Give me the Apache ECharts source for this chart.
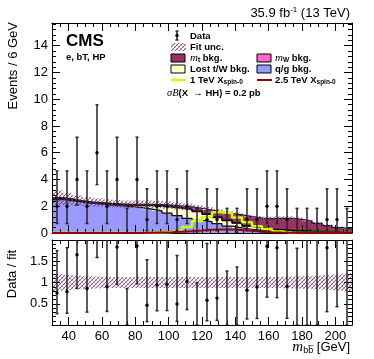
<!DOCTYPE html>
<html>
<head>
<meta charset="utf-8">
<script src="https://cdn.jsdelivr.net/npm/echarts@6/dist/echarts.min.js"></script>
<style>
html, body { margin: 0; padding: 0; background: #fff; }
#chart { width: 374px; height: 359px; }
</style>
</head>
<body>
<div id="chart"></div>
<script>
// bin edges, 6 GeV bins from 30 to 210
const binEdges = [30,36,42,48,54,60,66,72,78,84,90,96,102,108,114,120,126,132,138,144,150,156,162,168,174,180,186,192,198,204,210];
// observed events per bin
const dataCounts = [2,2,4,2,6,2,4,0,4,1,2,2,1,2,0,1,1,0,0,1,1,2,2,1,0,0,0,1,1,0];
// stacked backgrounds (bottom to top)
const qgBkg   = [2.50,2.42,2.30,2.22,2.15,2.08,2.02,1.97,1.90,1.78,1.65,1.48,1.30,1.10,0.95,0.85,0.70,0.52,0.38,0.28,0.20,0.15,0.12,0.10,0.08,0.06,0.05,0.04,0.03,0.02];
const lostBkg = [0.07,0.05,0.05,0.04,0.06,0.06,0.08,0.09,0.15,0.26,0.35,0.46,0.56,0.65,0.65,0.54,0.45,0.41,0.35,0.23,0.17,0.13,0.11,0.08,0.08,0.06,0.06,0.06,0.04,0.03];
const mwBkg   = [0,0,0,0,0,0.01,0.01,0.02,0.02,0.03,0.03,0.04,0.04,0.05,0.05,0.05,0.05,0.04,0.04,0.03,0.03,0.02,0.02,0.02,0.01,0.01,0.01,0,0,0];
const mtBkg   = [0.08,0.08,0.07,0.07,0.07,0.07,0.07,0.07,0.08,0.08,0.09,0.10,0.12,0.15,0.20,0.28,0.38,0.48,0.58,0.68,0.72,0.78,0.85,0.90,0.85,0.75,0.60,0.45,0.33,0.25];
// relative fit uncertainty
const fitUncRel = [0.20,0.18,0.16,0.15,0.14,0.13,0.13,0.13,0.13,0.13,0.13,0.13,0.13,0.13,0.13,0.13,0.13,0.13,0.13,0.13,0.13,0.13,0.13,0.14,0.14,0.15,0.16,0.17,0.19,0.21];
// signals (not stacked)
const sig1TeV   = [0,0,0,0,0,0,0,0,0,0.01,0.03,0.08,0.20,0.45,0.90,1.20,1.55,1.50,1.15,0.80,0.50,0.30,0.12,0.04,0,0,0,0,0,0];
const sig2p5TeV = [0,0,0,0,0,0,0,0,0,0.02,0.04,0.06,0.10,0.14,0.18,0.24,0.27,0.27,0.22,0.16,0.10,0.06,0.03,0.02,0,0,0,0,0,0];
// Garwood 68% intervals for the observed counts
const poissonInterval = {0: [0, 1.841], 1: [0.173, 3.300], 2: [0.708, 4.638], 4: [2.086, 7.163], 6: [3.620, 9.584]};

// cumulative stack levels
const stackLayers = [qgBkg, lostBkg, mwBkg, mtBkg];
const stackColors = ['#9999ff', '#ffffcc', '#ff66cc', '#993366'];
const cumul = [];
let running = qgBkg.map(() => 0);
stackLayers.forEach(layer => {
  const base = running;
  running = running.map((v, i) => v + layer[i]);
  cumul.push({ base: base, top: running });
});
const fitTotal = running;

// histogram points for step lines: one point per left edge, plus the last right edge
function histPoints(vals) {
  return binEdges.map((e, i) => [e, vals[Math.min(i, vals.length - 1)]]);
}
// [lo, hi, base, top] per bin
function binRects(base, top) {
  return top.map((t, i) => [binEdges[i], binEdges[i + 1], base[i], t]);
}

function hatchCanvas() {
  const c = document.createElement('canvas');
  c.width = 4; c.height = 4;
  const g = c.getContext('2d');
  g.strokeStyle = 'rgba(110,40,110,0.85)';
  g.lineWidth = 0.9;
  g.beginPath();
  g.moveTo(-1, 1); g.lineTo(1, -1);
  g.moveTo(0, 4); g.lineTo(4, 0);
  g.moveTo(3, 5); g.lineTo(5, 3);
  g.stroke();
  g.strokeStyle = 'rgba(170,90,160,0.5)';
  g.beginPath();
  g.moveTo(0, 0); g.lineTo(4, 4);
  g.stroke();
  return c;
}
const hatch = { image: hatchCanvas(), repeat: 'repeat' };

const FONT = 'Liberation Sans, Arial, sans-serif';

function rectSeries(name, rects, fill, xi, yi, z) {
  return {
    name: name, type: 'custom', xAxisIndex: xi, yAxisIndex: yi, z: z, clip: true, animation: false,
    encode: { x: [0, 1], y: [2, 3] },
    data: rects,
    renderItem: function (params, api) {
      const p1 = api.coord([api.value(0), api.value(3)]);
      const p2 = api.coord([api.value(1), api.value(2)]);
      return { type: 'rect', shape: { x: p1[0], y: p1[1], width: p2[0] - p1[0] + 0.5, height: p2[1] - p1[1] },
        style: { fill: fill, stroke: null } };
    }
  };
}

function stepLine(name, vals, color, width, z, xi, yi) {
  return {
    name: name, type: 'line', step: 'end', symbol: 'none', animation: false,
    xAxisIndex: xi || 0, yAxisIndex: yi || 0, z: z,
    lineStyle: { color: color, width: width },
    data: histPoints(vals)
  };
}

function errRenderItem(params, api) {
  const x = api.value(0), y = api.value(1), lo = api.value(2), hi = api.value(3), n = api.value(4);
  const pTop = api.coord([x, hi]);
  const pBot = api.coord([x, lo]);
  const p = api.coord([x, y]);
  const st = { stroke: '#262626', lineWidth: 1.5 };
  const children = [
    { type: 'line', shape: { x1: pTop[0], y1: pTop[1], x2: pBot[0], y2: pBot[1] }, style: st },
    { type: 'line', shape: { x1: pTop[0] - 1.5, y1: pTop[1], x2: pTop[0] + 1.5, y2: pTop[1] }, style: st },
    { type: 'line', shape: { x1: pBot[0] - 1.5, y1: pBot[1], x2: pBot[0] + 1.5, y2: pBot[1] }, style: st }
  ];
  if (n > 0) children.push({ type: 'circle', shape: { cx: p[0], cy: p[1], r: 1.7 }, style: { fill: '#000' } });
  return { type: 'group', children: children };
}

const centers = dataCounts.map((n, i) => (binEdges[i] + binEdges[i + 1]) / 2);
const mainPoints = dataCounts.map((n, i) => [centers[i], n, poissonInterval[n][0], poissonInterval[n][1], n]);
const ratioPoints = dataCounts.map((n, i) => [centers[i], n / fitTotal[i], poissonInterval[n][0] / fitTotal[i], poissonInterval[n][1] / fitTotal[i], n]);

function xAxisDef(gridIndex, position, labels) {
  return {
    type: 'value', gridIndex: gridIndex, position: position, min: 30, max: 210, splitNumber: 9, z: 5,
    axisLine: { show: true, onZero: false, lineStyle: { color: '#000', width: 1 } },
    axisTick: { show: true, inside: true, length: 8, lineStyle: { color: '#000' } },
    minorTick: { show: true, splitNumber: 4, length: 4, lineStyle: { color: '#000' } },
    splitLine: { show: false },
    axisLabel: { show: labels, showMinLabel: false, showMaxLabel: false, color: '#000', fontFamily: FONT, fontSize: 13, margin: 5 }
  };
}
function yAxisDef(gridIndex, position, min, max, interval, minorSplit, labels) {
  return {
    type: 'value', gridIndex: gridIndex, position: position, min: min, max: max, interval: interval, z: 5,
    axisLine: { show: true, onZero: false, lineStyle: { color: '#000', width: 1 } },
    axisTick: { show: true, inside: true, length: 8, lineStyle: { color: '#000' } },
    minorTick: { show: true, splitNumber: minorSplit, length: 4, lineStyle: { color: '#000' } },
    splitLine: { show: false },
    axisLabel: { show: labels, showMinLabel: gridIndex === 0, showMaxLabel: false, color: '#000', fontFamily: FONT, fontSize: 13, margin: 4 }
  };
}

const series = [];
cumul.forEach((c, k) => {
  series.push(rectSeries('bkg' + k, binRects(c.base, c.top), stackColors[k], 0, 0, 2));
});
cumul.forEach((c, k) => {
  series.push(stepLine('edge' + k, c.top, '#000', 1.2, 3));
});
series.push(rectSeries('Fit unc.', binRects(fitTotal.map((t, i) => t * (1 - fitUncRel[i])), fitTotal.map((t, i) => t * (1 + fitUncRel[i]))), hatch, 0, 0, 4));
series.push(stepLine('1 TeV', sig1TeV, '#ccff00', 2.5, 5));
series.push(stepLine('2.5 TeV', sig2p5TeV, '#990000', 2, 5));
series.push({ name: 'Data', type: 'custom', xAxisIndex: 0, yAxisIndex: 0, z: 6, clip: true, animation: false,
  renderItem: errRenderItem, encode: { x: 0, y: [1, 2, 3] }, data: mainPoints });
// ratio panel
series.push(rectSeries('ratio unc', binRects(fitUncRel.map(u => 1 - u), fitUncRel.map(u => 1 + u)), hatch, 2, 2, 4));
series.push({ name: 'Data / fit', type: 'custom', xAxisIndex: 2, yAxisIndex: 2, z: 6, clip: true, animation: false,
  renderItem: errRenderItem, encode: { x: 0, y: [1, 2, 3] }, data: ratioPoints });

const LX1 = 171, LX2 = 257, TX1 = 190, TX2 = 275;
const legFont = 'bold 9.5px ' + FONT;
const rich = {
  b: { fontFamily: FONT, fontWeight: 'bold', fontSize: 9.5, lineHeight: 12, verticalAlign: 'middle' },
  i: { fontFamily: 'Liberation Serif, serif', fontStyle: 'italic', fontSize: 11, lineHeight: 12, verticalAlign: 'middle' },
  s: { fontFamily: FONT, fontWeight: 'bold', fontSize: 6.5, lineHeight: 7, verticalAlign: 'bottom', padding: [6, 0, 0, 0] },
  sup: { fontFamily: FONT, fontSize: 8, lineHeight: 8, verticalAlign: 'top', padding: [0, 0, 6, 0] },
  n: { fontFamily: FONT, fontSize: 13, lineHeight: 14, verticalAlign: 'middle' },
  si: { fontFamily: 'Liberation Serif, serif', fontStyle: 'italic', fontSize: 10.5, lineHeight: 12, verticalAlign: 'middle' },
  mi: { fontFamily: 'Liberation Serif, serif', fontStyle: 'italic', fontSize: 15, lineHeight: 16, verticalAlign: 'middle' },
  ms: { fontFamily: FONT, fontSize: 9, lineHeight: 8, verticalAlign: 'bottom', padding: [8, 0, 0, 0] }
};
function txt(x, y, text) {
  return { type: 'text', x: x, y: y, z: 20,
    style: { text: text, rich: rich, fill: '#000', font: legFont, verticalAlign: 'middle' } };
}
function box(x, y, color) {
  return { type: 'rect', x: x, y: y, z: 20, shape: { width: 14, height: 8 }, style: { fill: color, stroke: '#000', lineWidth: 1 } };
}

const graphic = [
  // CMS label
  { type: 'text', x: 66, y: 41, z: 20, style: { text: 'CMS', font: 'bold 17px ' + FONT, fill: '#000', verticalAlign: 'middle' } },
  { type: 'text', x: 66, y: 57, z: 20, style: { text: 'e, bT, HP', font: 'bold 9.5px ' + FONT, fill: '#000', verticalAlign: 'middle' } },
  // lumi label
  { type: 'text', x: 350, y: 13, z: 20, style: { text: '{n|35.9 fb}{sup|-1}{n| (13 TeV)}', rich: rich, fill: '#000', align: 'right', verticalAlign: 'middle' } },
  // axis titles
  { type: 'text', x: 13, y: 22, rotation: Math.PI / 2, z: 20, style: { text: 'Events / 6 GeV', font: '13px ' + FONT, fill: '#000', align: 'right', verticalAlign: 'middle' } },
  { type: 'text', x: 12, y: 274, rotation: Math.PI / 2, z: 20, style: { text: 'Data / fit', font: '13px ' + FONT, fill: '#000', align: 'center', verticalAlign: 'middle' } },
  { type: 'text', x: 350, y: 347, z: 20, style: { text: '{mi|m}{ms|bb\u0305}{n| [GeV]}', rich: rich, fill: '#000', align: 'right', verticalAlign: 'middle' } },
  // legend: data marker
  { type: 'line', z: 20, shape: { x1: 177, y1: 31, x2: 177, y2: 40 }, style: { stroke: '#262626', lineWidth: 1.5 } },
  { type: 'line', z: 20, shape: { x1: 175.5, y1: 31, x2: 178.5, y2: 31 }, style: { stroke: '#262626', lineWidth: 1.5 } },
  { type: 'line', z: 20, shape: { x1: 175.5, y1: 40, x2: 178.5, y2: 40 }, style: { stroke: '#262626', lineWidth: 1.5 } },
  { type: 'circle', z: 20, shape: { cx: 177, cy: 35.5, r: 1.7 }, style: { fill: '#000' } },
  txt(TX1, 36, '{b|Data}'),
  { type: 'rect', x: LX1, y: 43, z: 20, shape: { width: 15, height: 8 }, style: { fill: hatch } },
  txt(TX1, 47, '{b|Fit unc.}'),
  box(LX1, 54, '#993366'),
  txt(TX1, 58, '{i|m}{s|t}{b| bkg.}'),
  box(LX2, 54, '#ff66cc'),
  txt(TX2, 58, '{i|m}{s|W}{b| bkg.}'),
  box(LX1, 65, '#ffffcc'),
  txt(TX1, 69, '{b|Lost t/W bkg.}'),
  box(LX2, 65, '#9999ff'),
  txt(TX2, 69, '{b|q/g bkg.}'),
  { type: 'line', z: 20, shape: { x1: LX1, y1: 80, x2: LX1 + 15, y2: 80 }, style: { stroke: '#ccff00', lineWidth: 2.5 } },
  txt(TX1, 80, '{b|1 TeV X}{s|spin-0}'),
  { type: 'line', z: 20, shape: { x1: LX2, y1: 80, x2: LX2 + 15, y2: 80 }, style: { stroke: '#990000', lineWidth: 2 } },
  txt(TX2, 80, '{b|2.5 TeV X}{s|spin-0}'),
  txt(167, 93, '{si|\u03c3B}{b|(X  \u2192 HH) = 0.2 pb}')
];

const chart = echarts.init(document.getElementById('chart'), null, { renderer: 'canvas' });
chart.setOption({
  animation: false,
  backgroundColor: '#fff',
  grid: [
    { left: 52, right: 22, top: 23, height: 210 },
    { left: 52, right: 22, top: 240, height: 85 }
  ],
  xAxis: [
    xAxisDef(0, 'bottom', false),
    xAxisDef(0, 'top', false),
    xAxisDef(1, 'bottom', true),
    xAxisDef(1, 'top', false)
  ],
  yAxis: [
    yAxisDef(0, 'left', 0, 15.7, 2, 5, true),
    yAxisDef(0, 'right', 0, 15.7, 2, 5, false),
    yAxisDef(1, 'left', 0, 2, 0.5, 5, true),
    yAxisDef(1, 'right', 0, 2, 0.5, 5, false)
  ],
  series: series,
  graphic: graphic
});
</script>
</body>
</html>
